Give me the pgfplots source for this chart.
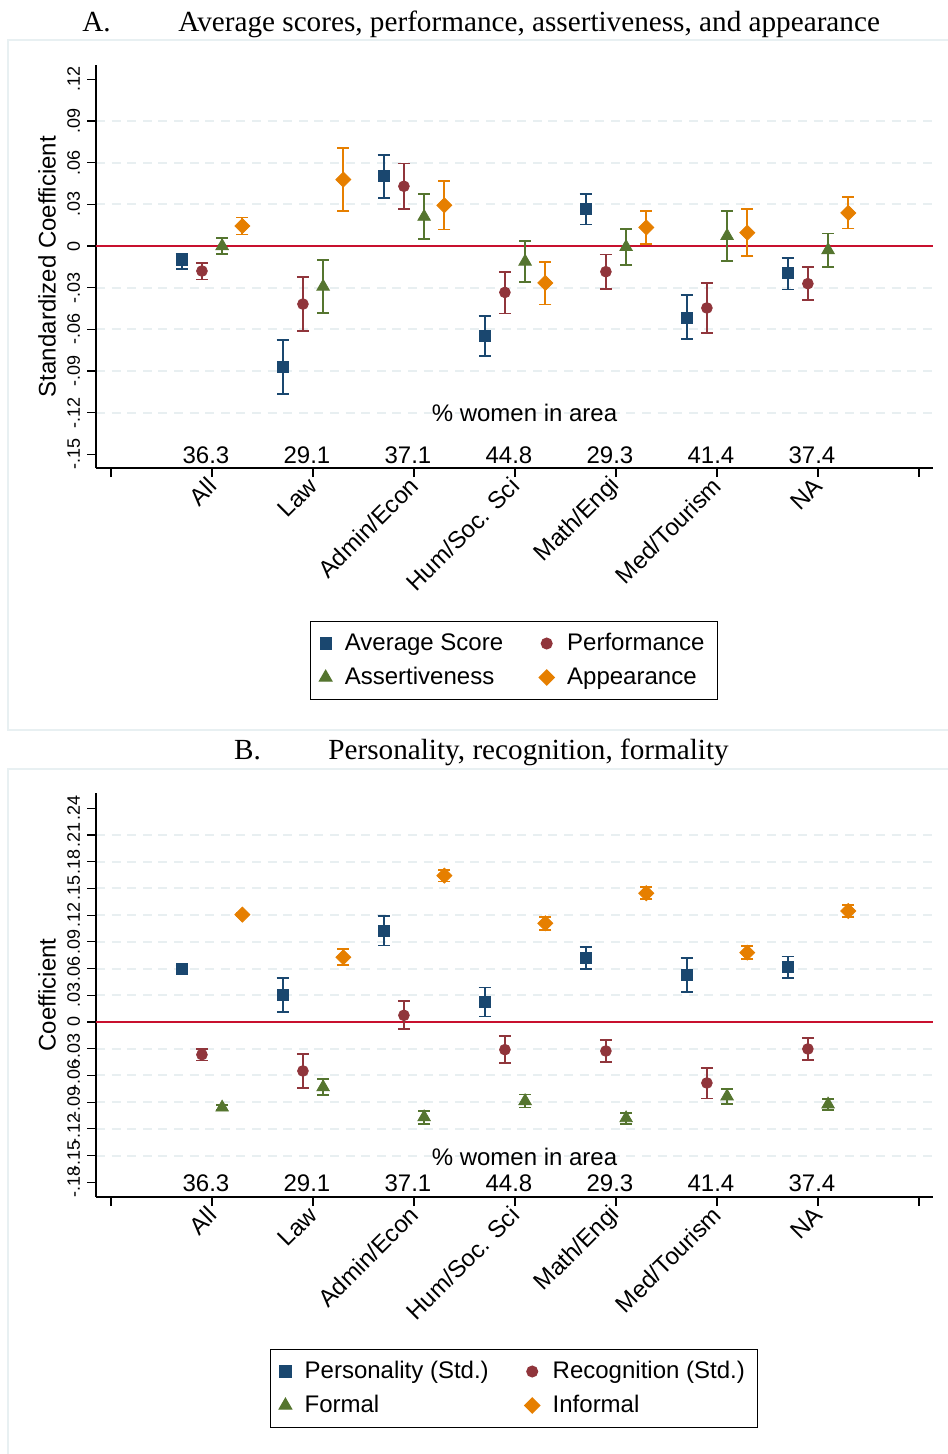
\documentclass[border=0pt]{standalone}
\usepackage{pgfplots}
\pgfplotsset{compat=1.18}
\usepackage{pgfplotstable}
\usepackage{fontspec}
\setmainfont{Liberation Sans}
\newfontfamily\titlefont{Liberation Serif}

\definecolor{snavy}{RGB}{26,71,111}
\definecolor{smaroon}{RGB}{144,53,59}
\definecolor{sgreen}{RGB}{85,117,47}
\definecolor{sorange}{RGB}{230,127,0}
\definecolor{zline}{RGB}{200,16,46}
\definecolor{gridc}{RGB}{232,239,241}
\definecolor{panelc}{RGB}{232,240,242}

\newcommand\fs{\fontsize{12}{14}\selectfont}
\newcommand\ft{\fontsize{9}{11}\selectfont}

% panel A: x = area index +/- offset, y = estimate, lo/hi = CI
\pgfplotstableread{
x y lo hi
0.7 -0.0101 -0.0163 -0.0053
1.7 -0.0871 -0.1066 -0.0677
2.7 0.0502 0.0348 0.0653
3.7 -0.0648 -0.0792 -0.0504
4.7 0.0264 0.0154 0.0374
5.7 -0.0514 -0.0670 -0.0353
6.7 -0.0197 -0.0312 -0.0084
}\avgscore
\pgfplotstableread{
x y lo hi
0.9 -0.0180 -0.0242 -0.0120
1.9 -0.0418 -0.0612 -0.0223
2.9 0.0430 0.0266 0.0593
3.9 -0.0334 -0.0485 -0.0185
4.9 -0.0185 -0.0310 -0.0062
5.9 -0.0446 -0.0624 -0.0264
6.9 -0.0271 -0.0391 -0.0151
}\perf
\pgfplotstableread{
x y lo hi
1.1 0.0000 -0.0060 0.0060
2.1 -0.0292 -0.0480 -0.0103
3.1 0.0211 0.0050 0.0372
4.1 -0.0112 -0.0259 0.0036
5.1 -0.0007 -0.0137 0.0122
6.1 0.0073 -0.0108 0.0254
7.1 -0.0029 -0.0149 0.0091
}\assert
\pgfplotstableread{
x y lo hi
1.3 0.0144 0.0082 0.0206
2.3 0.0478 0.0250 0.0706
3.3 0.0293 0.0118 0.0470
4.3 -0.0266 -0.0420 -0.0115
5.3 0.0134 0.0014 0.0254
6.3 0.0096 -0.0072 0.0264
7.3 0.0238 0.0125 0.0353
}\appear

% panel B
\pgfplotstableread{
x y lo hi
0.7 0.0599 0.0570 0.0628
1.7 0.0300 0.0109 0.0498
2.7 0.1022 0.0858 0.1187
3.7 0.0221 0.0060 0.0386
4.7 0.0715 0.0599 0.0839
5.7 0.0524 0.0333 0.0719
6.7 0.0614 0.0494 0.0734
}\persn
\pgfplotstableread{
x y lo hi
0.9 -0.0367 -0.0431 -0.0307
1.9 -0.0550 -0.0745 -0.0356
2.9 0.0075 -0.0082 0.0232
3.9 -0.0311 -0.0464 -0.0157
4.9 -0.0326 -0.0449 -0.0206
5.9 -0.0685 -0.0861 -0.0517
6.9 -0.0303 -0.0427 -0.0180
}\recog
\pgfplotstableread{
x y lo hi
1.1 -0.0960 -0.0990 -0.0930
2.1 -0.0732 -0.0820 -0.0644
3.1 -0.1069 -0.1142 -0.0996
4.1 -0.0888 -0.0959 -0.0816
5.1 -0.1080 -0.1142 -0.1019
6.1 -0.0835 -0.0918 -0.0753
7.1 -0.0925 -0.0985 -0.0865
}\formal
\pgfplotstableread{
x y lo hi
1.3 0.1206 0.1190 0.1222
2.3 0.0727 0.0637 0.0816
3.3 0.1644 0.1577 0.1708
4.3 0.1109 0.1037 0.1180
5.3 0.1446 0.1378 0.1513
6.3 0.0779 0.0708 0.0854
7.3 0.1247 0.1180 0.1311
}\informal

\pgfplotsset{
  panel/.style={
    scale only axis, width=418.5pt,
    xmin=-0.149, xmax=8.139,
    axis lines*=left, axis line style={line width=0.6pt, black},
    tick align=outside, major tick length=4.5pt,
    tick style={black, line width=0.6pt},
    xtick={0,...,8},
    xticklabels={,All,Law,Admin/Econ,Hum/Soc. Sci,Math/Engi,Med/Tourism,NA,},
    xticklabel style={font=\fs, xshift=2.5pt, rotate=45, anchor=east},
    yticklabel style={font=\ft, rotate=90, anchor=south},
    minor tick length=0pt,
    yminorgrids,
    minor grid style={gridc, line width=1pt, dash pattern=on 4.5pt off 3.3pt},
    ylabel style={font=\fs, at={(axis description cs:-0.0585,0.5)}, anchor=center},
    legend columns=2,
    legend cell align=left,
    legend style={draw=black, line width=0.6pt, font=\fs, inner xsep=4.5pt, inner ysep=2.5pt,
      nodes={inner ysep=2.75pt, text height=9pt, text depth=2.5pt},
      /tikz/every odd column/.append style={column sep=4.5pt},
      /tikz/every even column/.append style={column sep=16pt}},
    legend image code/.code={\draw[mark repeat=2,mark phase=2,##1] plot coordinates {(0pt,0pt)(4pt,0pt)(8pt,0pt)};},
  },
  ser/.style={only marks, color=#1, mark options={fill=#1, draw=#1},
    error bars/y dir=both, error bars/y explicit,
    error bars/error bar style={line width=0.85pt},
    error bars/error mark options={rotate=90, line width=0.85pt, mark size=3pt, #1}},
}

\begin{document}
\begin{tikzpicture}
\useasboundingbox (0,0) rectangle (473.5pt,-727pt);
\draw[panelc, line width=0.6pt] (4pt,-20pt) rectangle (480pt,-365pt);
\draw[panelc, line width=0.6pt] (4pt,-384.5pt) rectangle (480pt,-740pt);

\node[anchor=base, inner sep=0, font=\titlefont\fontsize{14.6}{16}\selectfont] at (48.25pt,-16pt) {A.};
\node[anchor=base west, inner sep=0, font=\titlefont\fontsize{14.6}{16}\selectfont] at (89pt,-16pt) {Average scores, performance, assertiveness, and appearance};
\node[anchor=base, inner sep=0, font=\titlefont\fontsize{14.6}{16}\selectfont] at (123.75pt,-379.5pt) {B.};
\node[anchor=base west, inner sep=0, font=\titlefont\fontsize{14.6}{16}\selectfont] at (164pt,-379.5pt) {Personality, recognition, formality};

% ---------- panel A
\begin{axis}[panel, at={(48pt,-234pt)}, anchor=south west, height=201.5pt,
    ymin=-0.1598, ymax=0.1303,
    ytick={-0.15,-0.12,-0.09,-0.06,-0.03,0,0.03,0.06,0.09,0.12},
    yticklabels={-.15,-.12,-.09,-.06,-.03,0,.03,.06,.09,.12},
    minor ytick={-0.12,-0.09,-0.06,-0.03,0.03,0.06,0.09},
    ylabel={Standardized Coefficient},
    legend style={at={(axis description cs:0.4994,-0.4777)}, anchor=center},
]
\addplot[zline, line width=1pt, forget plot] coordinates {(-0.149,0) (8.139,0)};
\addplot[ser=snavy, mark=square*, mark size=2.75pt] table[x=x, y=y,
  y error plus expr=\thisrow{hi}-\thisrow{y}, y error minus expr=\thisrow{y}-\thisrow{lo}] {\avgscore};
\addplot[ser=smaroon, mark=*, mark size=2.7pt] table[x=x, y=y,
  y error plus expr=\thisrow{hi}-\thisrow{y}, y error minus expr=\thisrow{y}-\thisrow{lo}] {\perf};
\addplot[ser=sgreen, mark=triangle*, mark size=3.6pt] table[x=x, y=y,
  y error plus expr=\thisrow{hi}-\thisrow{y}, y error minus expr=\thisrow{y}-\thisrow{lo}] {\assert};
\addplot[ser=sorange, mark=square*, mark size=2.65pt, mark options={fill=sorange, draw=sorange, rotate=45}] table[x=x, y=y,
  y error plus expr=\thisrow{hi}-\thisrow{y}, y error minus expr=\thisrow{y}-\thisrow{lo}] {\appear};
\legend{Average Score, Performance, Assertiveness, Appearance}
\node[font=\fs] at (axis cs:4.094,-0.1202) {\% women in area};
\node[font=\fs] at (axis cs:0.94,-0.1505) {36.3};
\node[font=\fs] at (axis cs:1.94,-0.1505) {29.1};
\node[font=\fs] at (axis cs:2.94,-0.1505) {37.1};
\node[font=\fs] at (axis cs:3.94,-0.1505) {44.8};
\node[font=\fs] at (axis cs:4.94,-0.1505) {29.3};
\node[font=\fs] at (axis cs:5.94,-0.1505) {41.4};
\node[font=\fs] at (axis cs:6.94,-0.1505) {37.4};
\end{axis}

% ---------- panel B
\begin{axis}[panel, at={(48pt,-598.5pt)}, anchor=south west, height=202pt,
    ymin=-0.1966, ymax=0.2572,
    ytick={-0.18,-0.15,-0.12,-0.09,-0.06,-0.03,0,0.03,0.06,0.09,0.12,0.15,0.18,0.21,0.24},
    yticklabels={-.18,-.15,-.12,-.09,-.06,-.03,0,.03,.06,.09,.12,.15,.18,.21,.24},
    minor ytick={-0.15,-0.12,-0.09,-0.06,-0.03,0.03,0.06,0.09,0.12,0.15,0.18,0.21},
    ylabel={Coefficient},
    legend style={at={(axis description cs:0.4994,-0.4740)}, anchor=center},
]
\addplot[zline, line width=1pt, forget plot] coordinates {(-0.149,0) (8.139,0)};
\addplot[ser=snavy, mark=square*, mark size=2.75pt] table[x=x, y=y,
  y error plus expr=\thisrow{hi}-\thisrow{y}, y error minus expr=\thisrow{y}-\thisrow{lo}] {\persn};
\addplot[ser=smaroon, mark=*, mark size=2.7pt] table[x=x, y=y,
  y error plus expr=\thisrow{hi}-\thisrow{y}, y error minus expr=\thisrow{y}-\thisrow{lo}] {\recog};
\addplot[ser=sgreen, mark=triangle*, mark size=3.6pt] table[x=x, y=y,
  y error plus expr=\thisrow{hi}-\thisrow{y}, y error minus expr=\thisrow{y}-\thisrow{lo}] {\formal};
\addplot[ser=sorange, mark=square*, mark size=2.65pt, mark options={fill=sorange, draw=sorange, rotate=45}] table[x=x, y=y,
  y error plus expr=\thisrow{hi}-\thisrow{y}, y error minus expr=\thisrow{y}-\thisrow{lo}] {\informal};
\legend{Personality (Std.), Recognition (Std.), Formal, Informal}
\node[font=\fs] at (axis cs:4.094,-0.1517) {\% women in area};
\node[font=\fs] at (axis cs:0.94,-0.1808) {36.3};
\node[font=\fs] at (axis cs:1.94,-0.1808) {29.1};
\node[font=\fs] at (axis cs:2.94,-0.1808) {37.1};
\node[font=\fs] at (axis cs:3.94,-0.1808) {44.8};
\node[font=\fs] at (axis cs:4.94,-0.1808) {29.3};
\node[font=\fs] at (axis cs:5.94,-0.1808) {41.4};
\node[font=\fs] at (axis cs:6.94,-0.1808) {37.4};
\end{axis}
\end{tikzpicture}
\end{document}
